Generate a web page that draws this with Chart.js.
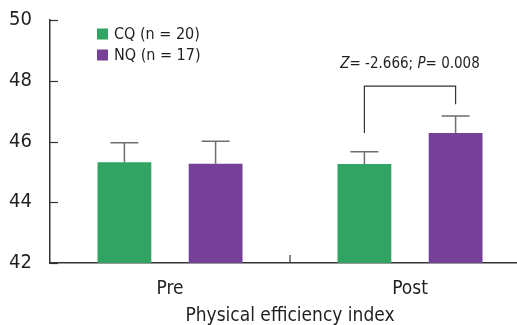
<!DOCTYPE html>
<html><head><meta charset="utf-8">
<script src="https://cdn.jsdelivr.net/npm/chart.js@4.4.1/dist/chart.umd.min.js"></script>
<style>
html,body{margin:0;padding:0;overflow:hidden;background:#fff;width:517px;height:325px;}
#wrap{width:530px;height:325px;position:relative;}
</style></head>
<body><div id="wrap"><canvas id="c"></canvas></div>
<script>
const categories = ['Pre', 'Post'];
const seriesNames = ['CQ (n = 20)', 'NQ (n = 17)'];
const cqValues = [45.32, 45.26];
const nqValues = [45.27, 46.28];
const cqErrors = [0.64, 0.40];
const nqErrors = [0.74, 0.56];
const yTicks = [42, 44, 46, 48, 50];
const statText = ['Z', '= -2.666; ', 'P', '= 0.008'];
const bracketLeft = 46.28, bracketTop = 47.82, bracketRight = 47.23, statLevel = 48.55;

const FONT = "'DejaVu Sans Condensed', 'Liberation Sans Narrow', sans-serif";
const TXT = '#231f20';
const errors = [cqErrors, nqErrors];

const extras = {
  id: 'extras',
  afterDatasetsDraw(chart) {
    const ctx = chart.ctx, y = chart.scales.y, x = chart.scales.x, ca = chart.chartArea;
    ctx.save();
    ctx.strokeStyle = '#333'; ctx.lineWidth = 1.2;
    yTicks.forEach(v => {
      const py = Math.round(y.getPixelForValue(v)) + 0.5;
      ctx.beginPath(); ctx.moveTo(ca.left, py); ctx.lineTo(ca.left + 8, py); ctx.stroke();
    });
    const divX = (x.getPixelForValue(0) + x.getPixelForValue(1)) / 2;
    ctx.beginPath(); ctx.moveTo(divX, ca.bottom); ctx.lineTo(divX, ca.bottom - 8); ctx.stroke();
    ctx.strokeStyle = '#6d6e71'; ctx.lineWidth = 1.5;
    chart.data.datasets.forEach((ds, di) => {
      const meta = chart.getDatasetMeta(di);
      meta.data.forEach((bar, i) => {
        const top = y.getPixelForValue(ds.data[i] + errors[di][i]);
        ctx.beginPath();
        ctx.moveTo(bar.x, bar.y); ctx.lineTo(bar.x, top);
        ctx.moveTo(bar.x - 14, top); ctx.lineTo(bar.x + 14, top);
        ctx.stroke();
      });
    });
    const b1 = chart.getDatasetMeta(0).data[1], b2 = chart.getDatasetMeta(1).data[1];
    ctx.strokeStyle = '#333'; ctx.lineWidth = 1.2;
    ctx.beginPath();
    ctx.moveTo(b1.x, y.getPixelForValue(bracketLeft));
    ctx.lineTo(b1.x, y.getPixelForValue(bracketTop));
    ctx.lineTo(b2.x, y.getPixelForValue(bracketTop));
    ctx.lineTo(b2.x, y.getPixelForValue(bracketRight));
    ctx.stroke();
    const fonts = ['italic 15px ' + FONT, '15px ' + FONT, 'italic 15px ' + FONT, '15px ' + FONT];
    let total = 0; const widths = [];
    statText.forEach((t, i) => { ctx.font = fonts[i]; const w = ctx.measureText(t).width; widths.push(w); total += w; });
    let sx = (b1.x + b2.x) / 2 - total / 2;
    const sy = y.getPixelForValue(statLevel);
    ctx.fillStyle = TXT; ctx.textBaseline = 'middle'; ctx.textAlign = 'left';
    statText.forEach((t, i) => { ctx.font = fonts[i]; ctx.fillText(t, sx, sy); sx += widths[i]; });
    ctx.font = '16px ' + FONT;
    chart.data.datasets.forEach((ds, di) => {
      const ly = 34 + di * 21;
      ctx.fillStyle = ds.backgroundColor;
      ctx.fillRect(97, ly - 5.5, 11, 11);
      ctx.fillStyle = TXT;
      ctx.fillText(ds.label, 114, ly + 1);
    });
    ctx.restore();
  }
};

new Chart(document.getElementById('c'), {
  type: 'bar',
  data: {
    labels: categories,
    datasets: [
      { label: seriesNames[0], data: cqValues, backgroundColor: '#31a463' },
      { label: seriesNames[1], data: nqValues, backgroundColor: '#763f98' }
    ]
  },
  options: {
    responsive: true, maintainAspectRatio: false, animation: false,
    layout: { padding: { top: 20, right: 0, left: 0, bottom: 0 } },
    categoryPercentage: 0.76, barPercentage: 0.59,
    plugins: { legend: { display: false }, tooltip: { enabled: false } },
    scales: {
      x: {
        grid: { display: false, drawTicks: false },
        border: { display: true, color: '#333', width: 1.5 },
        ticks: { color: TXT, font: { family: FONT, size: 19 }, padding: 15 },
        title: { display: true, text: 'Physical efficiency index', color: TXT,
                 font: { family: FONT, size: 19 }, padding: { top: 0, bottom: -2 } },
        afterFit(s) { s.height = 62; s.paddingLeft = 0; s.paddingRight = 0; }
      },
      y: {
        min: 42, max: 50,
        afterBuildTicks(s) { s.ticks = yTicks.map(v => ({ value: v })); },
        grid: { display: false, drawTicks: false },
        border: { display: true, color: '#333', width: 1.5 },
        ticks: { color: TXT, font: { family: FONT, size: 20 }, padding: 18 },
        afterFit(s) { s.width = 50; s.paddingTop = 0; s.paddingBottom = 0; }
      }
    }
  },
  plugins: [extras]
});
</script></body></html>
